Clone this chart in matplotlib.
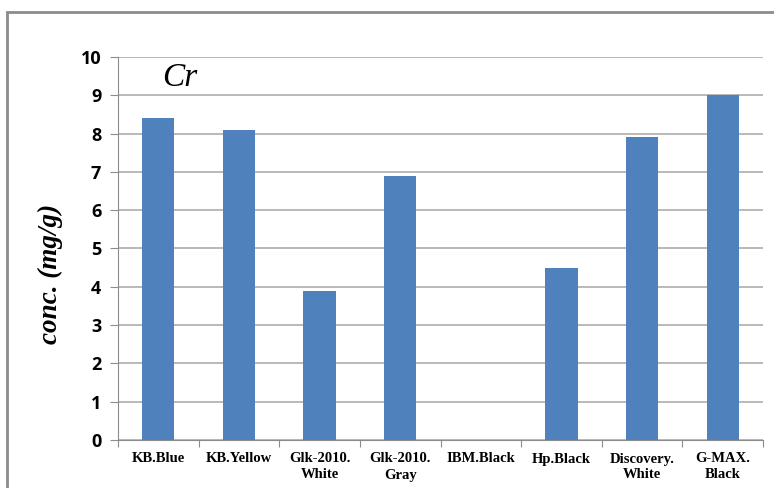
import matplotlib
matplotlib.use("Agg")
import matplotlib.pyplot as plt
from matplotlib.patches import Rectangle

categories = ["KB.Blue", "KB.Yellow", "Glk-2010.\nWhite", "Glk-2010.\nGray",
              "IBM.Black", "Hp.Black", "Discovery.\nWhite", "G-MAX.\nBlack"]
values = [8.4, 8.1, 3.9, 6.9, 0.0, 4.5, 7.9, 9.0]
yticks = list(range(0, 11))

W, H = 774, 488
fig = plt.figure(figsize=(W / 100, H / 100), dpi=100)

# outer chart frame (runs off the right and bottom edges)
fig.patches.append(Rectangle((7 / W, -0.05), 1.0, 1 - 12 / H + 0.05,
                             transform=fig.transFigure, fill=False,
                             edgecolor="#8c8c8c", linewidth=2.0))

left, right, top, bottom = 118, 763, 57, 440
ax = fig.add_axes([left / W, 1 - bottom / H, (right - left) / W, (bottom - top) / H])

x = range(len(categories))
ax.bar(x, values, width=0.4, color="#4f81bd", zorder=3)

ax.set_xlim(-0.5, len(categories) - 0.5)
ax.set_ylim(0, 10)
ax.set_yticks(yticks)
ax.set_yticklabels([str(t) for t in yticks], fontsize=13, fontweight="bold",
                   family="Open Sans")
ax.yaxis.grid(True, color="#b3b3b3", linewidth=1.3, zorder=0)

ax.set_xticks([i + 0.5 for i in range(-1, len(categories))], minor=False)
ax.set_xticklabels([])
ax.set_xticks(list(x), minor=True)
ax.set_xticklabels(categories, minor=True, fontsize=10.5, fontweight="bold",
                   family="Liberation Serif", linespacing=1.3)
ax.tick_params(axis="x", which="major", length=5, color="#8c8c8c", direction="out")
ax.tick_params(axis="x", which="minor", length=0, pad=9)
ax.tick_params(axis="y", length=6, color="#8c8c8c", pad=6)

for side in ("top", "right"):
    ax.spines[side].set_visible(False)
ax.spines["left"].set_color("#8c8c8c")
ax.spines["bottom"].set_color("#8c8c8c")

fig.text(50 / W, 1 - 274 / H, "conc. (mg/g)", rotation=90, fontsize=19.5,
         fontweight="bold", fontstyle="italic", family="Liberation Serif",
         ha="center", va="center")

ax.text(162 / W, 1 - 78 / H, "Cr", transform=fig.transFigure, fontsize=24,
        fontstyle="italic", family="Liberation Serif", va="center", ha="left")

fig.savefig("out.png", dpi=100)
